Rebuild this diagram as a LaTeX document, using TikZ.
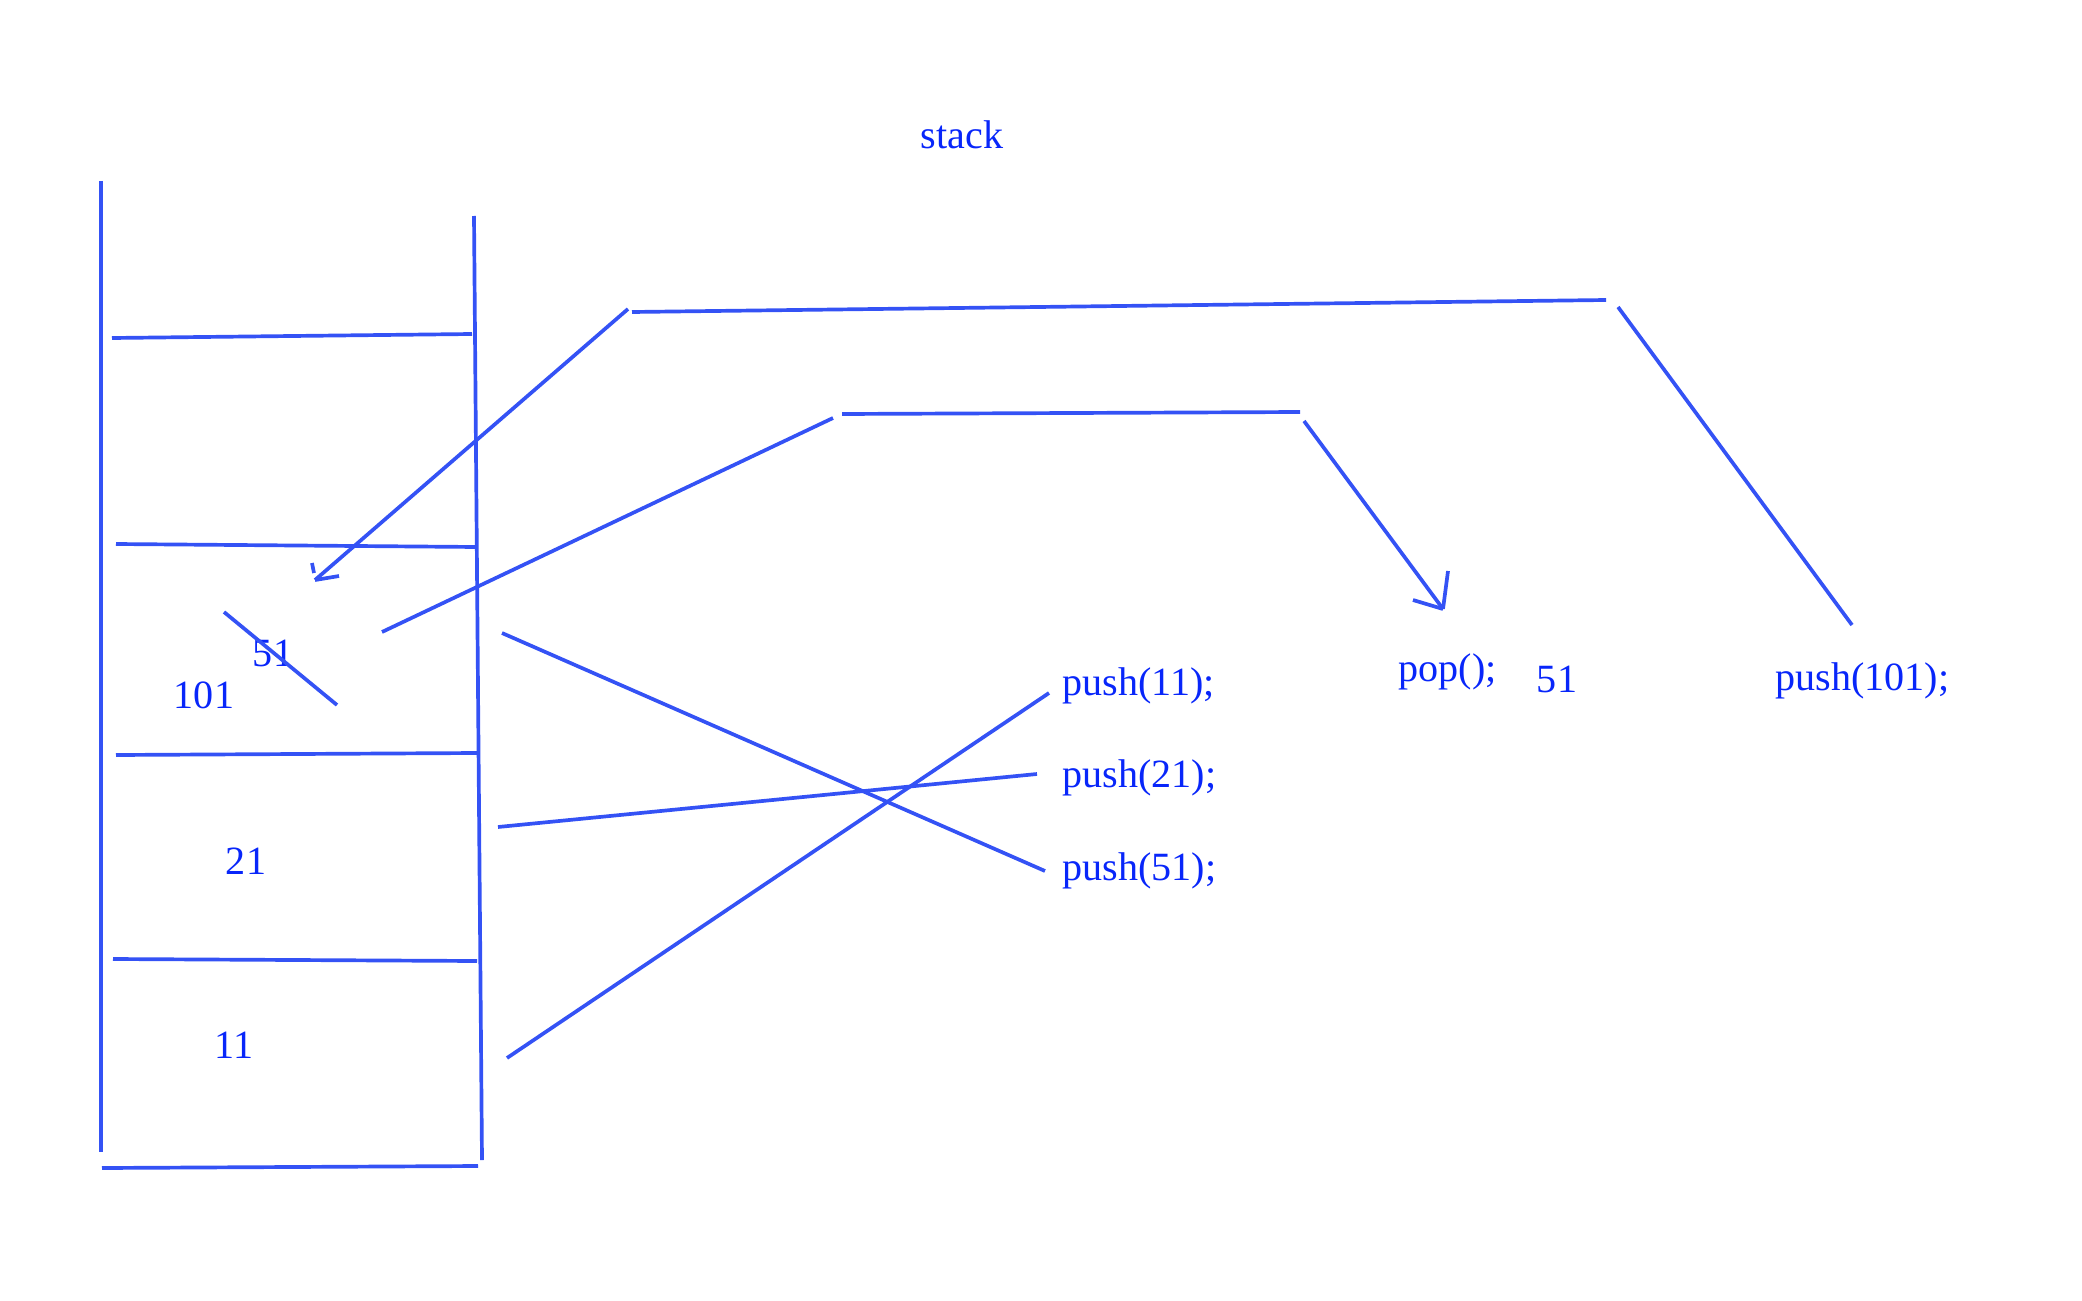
\documentclass[tikz,border=0pt]{standalone}
\usepackage{fontspec}
\setmainfont{Liberation Serif}
\definecolor{colorline}{RGB}{52,82,245}
\definecolor{colortext}{RGB}{8,38,250}

\begin{document}
\begin{tikzpicture}[
    x=0.01cm, y=-0.01cm,
    font={\fontsize{11.4}{13}\selectfont},
    stroke/.style={draw=colorline,line width=1.05pt},
    word/.style={text=colortext,inner sep=0pt,anchor=base},
    command/.style={word,anchor=base west},
]
    \useasboundingbox (0,0) rectangle (2082,1300);

    % Texts
    \node[word] (title) at (962,149) {stack};
    \node[word] (val51)  at (273,666)  {51};
    \node[word] (val101) at (204,708)  {101};
    \node[word] (val21)  at (246,874)  {21};
    \node[word] (val11)  at (234,1058) {11};

    \node[command] (push11)  at (1062,695) {push(11);};
    \node[command] (push21)  at (1062,787) {push(21);};
    \node[command] (push51)  at (1062,880) {push(51);};
    \node[command] (pop)     at (1398,681) {pop();};
    \node[word]    (out51)   at (1557,692) {51};
    \node[command] (push101) at (1775,690) {push(101);};

    % Stack frame
    \coordinate (wallLtop) at (101,181);
    \coordinate (wallLbot) at (101,1152);
    \coordinate (wallRtop) at (474,216);
    \coordinate (wallRbot) at (482,1160);
    \coordinate (floorL) at (102,1168);
    \coordinate (floorR) at (478,1166);
    \coordinate (shelfAL) at (112,338);
    \coordinate (shelfAR) at (472,334);
    \coordinate (shelfBL) at (116,544);
    \coordinate (shelfBR) at (477,547);
    \coordinate (shelfCL) at (116,755);
    \coordinate (shelfCR) at (477,753);
    \coordinate (shelfDL) at (113,959);
    \coordinate (shelfDR) at (477,961);

    \draw[stroke] (wallLtop) -- (wallLbot);
    \draw[stroke] (wallRtop) -- (wallRbot);
    \draw[stroke] (floorL) -- (floorR);
    \draw[stroke] (shelfAL) -- (shelfAR);
    \draw[stroke] (shelfBL) -- (shelfBR);
    \draw[stroke] (shelfCL) -- (shelfCR);
    \draw[stroke] (shelfDL) -- (shelfDR);

    % Crossing out 51
    \coordinate (strikeA) at (224,612);
    \coordinate (strikeB) at (337,705);
    \draw[stroke] (strikeA) -- (strikeB);

    % Push lines
    \coordinate (p11end) at (1049,693);
    \coordinate (p11slot) at (507,1058);
    \coordinate (p21end) at (1037,774);
    \coordinate (p21slot) at (498,827);
    \coordinate (p51end) at (1045,871);
    \coordinate (p51slot) at (502,633);
    \draw[stroke] (p11end) -- (p11slot);
    \draw[stroke] (p21end) -- (p21slot);
    \draw[stroke] (p51end) -- (p51slot);

    % Pop path
    \coordinate (popFrom) at (382,632);
    \coordinate (popBend) at (833,418);
    \coordinate (popTopL) at (842,414);
    \coordinate (popTopR) at (1300,412);
    \coordinate (popDown) at (1304,421);
    \coordinate (popTip) at (1443,609);
    \coordinate (popBarbA) at (1413,600);
    \coordinate (popBarbB) at (1448,571);
    \draw[stroke] (popFrom) -- (popBend);
    \draw[stroke] (popTopL) -- (popTopR);
    \draw[stroke] (popDown) -- (popTip);
    \draw[stroke] (popBarbA) -- (popTip);
    \draw[stroke] (popBarbB) -- (popTip);

    % Push 101 path
    \coordinate (p101start) at (1852,625);
    \coordinate (p101turn) at (1618,307);
    \coordinate (topR) at (1606,300);
    \coordinate (topL) at (632,312);
    \coordinate (dropStart) at (628,309);
    \coordinate (dropTip) at (315,580);
    \coordinate (dropBarb) at (339,576);
    \coordinate (tickA) at (312,563);
    \coordinate (tickB) at (314,573);
    \draw[stroke] (p101start) -- (p101turn);
    \draw[stroke] (topR) -- (topL);
    \draw[stroke] (dropStart) -- (dropTip);
    \draw[stroke] (dropTip) -- (dropBarb);
    \draw[stroke] (tickA) -- (tickB);

\end{tikzpicture}
\end{document}
